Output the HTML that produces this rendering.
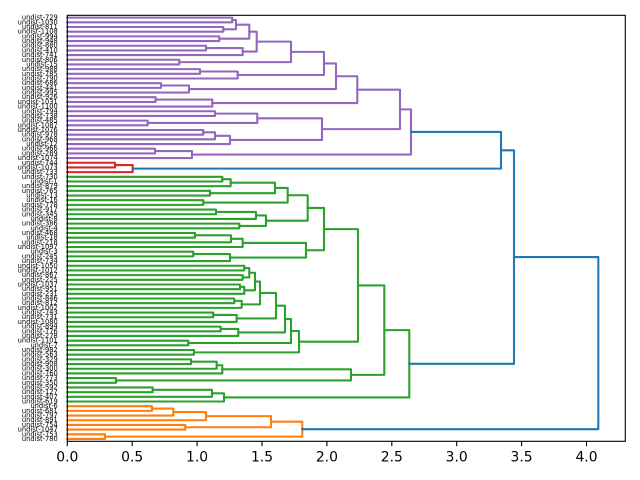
<!DOCTYPE html>
<html>
<head>
<meta charset="utf-8">
<style>
html,body{margin:0;padding:0;background:#fff;}
svg{display:block;}
.lbl{font-family:"DejaVu Sans","Liberation Sans",sans-serif;font-size:6.7px;fill:#000;}
.tk{font-family:"DejaVu Sans","Liberation Sans",sans-serif;font-size:13.9px;fill:#000;}
path{fill:none;stroke-width:2.08;stroke-linejoin:round;stroke-linecap:square;}
</style>
</head>
<body>
<svg width="640" height="480" viewBox="0 0 640 480" xmlns="http://www.w3.org/2000/svg">
<rect x="0" y="0" width="640" height="480" fill="#fff"/>
<rect x="67.3" y="15.3" width="558" height="426" fill="#fff"/>

<!-- purple -->
<g stroke="#9467bd">
<path d="M67.3 17.64 H232.3 V22.32 H67.3"/>
<path d="M67.3 27.00 H223.3 V31.68 H67.3"/>
<path d="M232.3 19.98 H236 V29.34 H223.3"/>
<path d="M67.3 36.37 H219.3 V41.05 H67.3"/>
<path d="M236 24.66 H249.3 V38.71 H219.3"/>
<path d="M67.3 45.73 H206 V50.41 H67.3"/>
<path d="M206 48.07 H242.7 V55.09 H67.3"/>
<path d="M249.3 31.69 H256.7 V51.58 H242.7"/>
<path d="M67.3 59.77 H179.3 V64.45 H67.3"/>
<path d="M256.7 41.63 H291 V62.11 H179.3"/>
<path d="M67.3 69.13 H200 V73.82 H67.3"/>
<path d="M200 71.48 H237.7 V78.50 H67.3"/>
<path d="M291 51.87 H324 V74.99 H237.7"/>
<path d="M67.3 83.18 H161 V87.86 H67.3"/>
<path d="M161 85.52 H189 V92.54 H67.3"/>
<path d="M324 63.43 H336 V89.03 H189"/>
<path d="M67.3 97.22 H155.7 V101.90 H67.3"/>
<path d="M155.7 99.56 H212.3 V106.58 H67.3"/>
<path d="M336 76.23 H357.3 V103.07 H212.3"/>
<path d="M67.3 111.27 H215 V115.95 H67.3"/>
<path d="M67.3 120.63 H147.7 V125.31 H67.3"/>
<path d="M215 113.61 H257.3 V122.97 H147.7"/>
<path d="M67.3 129.99 H203.3 V134.67 H67.3"/>
<path d="M203.3 132.33 H215 V139.35 H67.3"/>
<path d="M215 135.84 H230 V144.03 H67.3"/>
<path d="M257.3 118.29 H322 V139.94 H230"/>
<path d="M357.3 89.65 H400 V129.11 H322"/>
<path d="M67.3 148.72 H155 V153.40 H67.3"/>
<path d="M155 151.06 H192 V158.08 H67.3"/>
<path d="M400 109.38 H411 V154.57 H192"/>
</g>

<!-- red -->
<g stroke="#d62728">
<path d="M67.3 162.76 H115 V167.44 H67.3"/>
<path d="M115 165.10 H132.7 V172.12 H67.3"/>
</g>

<!-- green -->
<g stroke="#2ca02c">
<path d="M67.3 176.80 H222.3 V181.49 H67.3"/>
<path d="M222.3 179.15 H230.7 V186.17 H67.3"/>
<path d="M67.3 190.85 H210 V195.53 H67.3"/>
<path d="M230.7 182.66 H275 V193.19 H210"/>
<path d="M67.3 200.21 H203.3 V204.89 H67.3"/>
<path d="M275 187.93 H287.7 V202.55 H203.3"/>
<path d="M67.3 209.57 H216 V214.26 H67.3"/>
<path d="M216 211.92 H256 V218.94 H67.3"/>
<path d="M67.3 223.62 H239.3 V228.30 H67.3"/>
<path d="M256 215.43 H266 V225.96 H239.3"/>
<path d="M287.7 195.24 H307.7 V220.70 H266"/>
<path d="M67.3 232.98 H195 V237.66 H67.3"/>
<path d="M195 235.32 H231 V242.34 H67.3"/>
<path d="M231 238.83 H242.7 V247.02 H67.3"/>
<path d="M67.3 251.71 H193.3 V256.39 H67.3"/>
<path d="M193.3 254.05 H230 V261.07 H67.3"/>
<path d="M242.7 242.93 H306 V257.56 H230"/>
<path d="M307.7 207.97 H324 V250.25 H306"/>
<path d="M67.3 265.75 H244.3 V270.43 H67.3"/>
<path d="M67.3 275.11 H242.7 V279.79 H67.3"/>
<path d="M244.3 268.09 H249.3 V277.45 H242.7"/>
<path d="M67.3 284.48 H240 V289.16 H67.3"/>
<path d="M240 286.82 H244.3 V293.84 H67.3"/>
<path d="M249.3 272.77 H255 V290.33 H244.3"/>
<path d="M67.3 298.52 H234.3 V303.20 H67.3"/>
<path d="M234.3 300.86 H241.7 V307.88 H67.3"/>
<path d="M255 281.55 H260 V304.37 H241.7"/>
<path d="M67.3 312.56 H213.3 V317.24 H67.3"/>
<path d="M213.3 314.90 H236.7 V321.93 H67.3"/>
<path d="M260 292.96 H276 V318.42 H236.7"/>
<path d="M67.3 326.61 H220.7 V331.29 H67.3"/>
<path d="M220.7 328.95 H238.3 V335.97 H67.3"/>
<path d="M276 305.69 H285 V332.46 H238.3"/>
<path d="M67.3 340.65 H188.3 V345.33 H67.3"/>
<path d="M285 319.08 H291 V342.99 H188.3"/>
<path d="M67.3 350.01 H194 V354.70 H67.3"/>
<path d="M291 331.03 H299 V352.36 H194"/>
<path d="M324 229.11 H358 V341.70 H299"/>
<path d="M67.3 359.38 H191 V364.06 H67.3"/>
<path d="M191 361.72 H216.7 V368.74 H67.3"/>
<path d="M216.7 365.23 H222.3 V373.42 H67.3"/>
<path d="M67.3 378.10 H116 V382.78 H67.3"/>
<path d="M222.3 369.33 H351 V380.44 H116"/>
<path d="M358 285.40 H384.3 V374.88 H351"/>
<path d="M67.3 387.46 H152.7 V392.15 H67.3"/>
<path d="M152.7 389.81 H212 V396.83 H67.3"/>
<path d="M212 393.32 H224 V401.51 H67.3"/>
<path d="M384.3 330.14 H409.3 V397.42 H224"/>
</g>

<!-- orange -->
<g stroke="#ff7f0e">
<path d="M67.3 406.19 H152 V410.87 H67.3"/>
<path d="M152 408.53 H173.3 V415.55 H67.3"/>
<path d="M173.3 412.04 H206 V420.23 H67.3"/>
<path d="M67.3 424.91 H185.3 V429.60 H67.3"/>
<path d="M206 416.14 H271 V427.26 H185.3"/>
<path d="M67.3 434.28 H105 V438.96 H67.3"/>
<path d="M271 421.70 H302.3 V436.62 H105"/>
</g>

<!-- blue -->
<g stroke="#1f77b4">
<path d="M411 131.97 H501 V168.61 H132.7"/>
<path d="M501 150.29 H514 V363.78 H409.3"/>
<path d="M514 257.04 H598.3 V429.16 H302.3"/>
</g>

<!-- spines -->
<rect x="67.3" y="15.3" width="558" height="426" fill="none" stroke="#000" stroke-width="1.1"/>

<!-- x ticks -->
<g stroke="#000" stroke-width="1.1">
<line x1="67.3" y1="441.3" x2="67.3" y2="446.2"/>
<line x1="132.2" y1="441.3" x2="132.2" y2="446.2"/>
<line x1="197.1" y1="441.3" x2="197.1" y2="446.2"/>
<line x1="262.0" y1="441.3" x2="262.0" y2="446.2"/>
<line x1="326.9" y1="441.3" x2="326.9" y2="446.2"/>
<line x1="391.8" y1="441.3" x2="391.8" y2="446.2"/>
<line x1="456.7" y1="441.3" x2="456.7" y2="446.2"/>
<line x1="521.6" y1="441.3" x2="521.6" y2="446.2"/>
<line x1="586.5" y1="441.3" x2="586.5" y2="446.2"/>
</g>
<g class="tk" text-anchor="middle">
<text x="67.3" y="461.6">0.0</text>
<text x="132.2" y="461.6">0.5</text>
<text x="197.1" y="461.6">1.0</text>
<text x="262.0" y="461.6">1.5</text>
<text x="326.9" y="461.6">2.0</text>
<text x="391.8" y="461.6">2.5</text>
<text x="456.7" y="461.6">3.0</text>
<text x="521.6" y="461.6">3.5</text>
<text x="586.5" y="461.6">4.0</text>
</g>

<!-- leaf labels -->
<g class="lbl" text-anchor="end" dominant-baseline="central">
<text x="57.8" y="17.64">undist-729</text>
<text x="57.8" y="22.32">undist-1030</text>
<text x="57.8" y="27.00">undist-811</text>
<text x="57.8" y="31.68">undist-1108</text>
<text x="57.8" y="36.37">undist-994</text>
<text x="57.8" y="41.05">undist-948</text>
<text x="57.8" y="45.73">undist-880</text>
<text x="57.8" y="50.41">undist-410</text>
<text x="57.8" y="55.09">undist-741</text>
<text x="57.8" y="59.77">undist-806</text>
<text x="57.8" y="64.45">undist-15</text>
<text x="57.8" y="69.13">undist-988</text>
<text x="57.8" y="73.82">undist-785</text>
<text x="57.8" y="78.50">undist-790</text>
<text x="57.8" y="83.18">undist-686</text>
<text x="57.8" y="87.86">undist-441</text>
<text x="57.8" y="92.54">undist-995</text>
<text x="57.8" y="97.22">undist-926</text>
<text x="57.8" y="101.90">undist-1031</text>
<text x="57.8" y="106.58">undist-1100</text>
<text x="57.8" y="111.27">undist-794</text>
<text x="57.8" y="115.95">undist-738</text>
<text x="57.8" y="120.63">undist-485</text>
<text x="57.8" y="125.31">undist-1087</text>
<text x="57.8" y="129.99">undist-1076</text>
<text x="57.8" y="134.67">undist-978</text>
<text x="57.8" y="139.35">undist-968</text>
<text x="57.8" y="144.03">undist-12</text>
<text x="57.8" y="148.72">undist-966</text>
<text x="57.8" y="153.40">undist-289</text>
<text x="57.8" y="158.08">undist-1074</text>
<text x="57.8" y="162.76">undist-744</text>
<text x="57.8" y="167.44">undist-1073</text>
<text x="57.8" y="172.12">undist-733</text>
<text x="57.8" y="176.80">undist-730</text>
<text x="57.8" y="181.49">undist-1</text>
<text x="57.8" y="186.17">undist-879</text>
<text x="57.8" y="190.85">undist-765</text>
<text x="57.8" y="195.53">undist-13</text>
<text x="57.8" y="200.21">undist-16</text>
<text x="57.8" y="204.89">undist-778</text>
<text x="57.8" y="209.57">undist-917</text>
<text x="57.8" y="214.26">undist-345</text>
<text x="57.8" y="218.94">undist-8</text>
<text x="57.8" y="223.62">undist-386</text>
<text x="57.8" y="228.30">undist-4</text>
<text x="57.8" y="232.98">undist-468</text>
<text x="57.8" y="237.66">undist-18</text>
<text x="57.8" y="242.34">undist-218</text>
<text x="57.8" y="247.02">undist-1097</text>
<text x="57.8" y="251.71">undist-3</text>
<text x="57.8" y="256.39">undist-245</text>
<text x="57.8" y="261.07">undist-734</text>
<text x="57.8" y="265.75">undist-1050</text>
<text x="57.8" y="270.43">undist-1012</text>
<text x="57.8" y="275.11">undist-867</text>
<text x="57.8" y="279.79">undist-225</text>
<text x="57.8" y="284.48">undist-1037</text>
<text x="57.8" y="289.16">undist-951</text>
<text x="57.8" y="293.84">undist-231</text>
<text x="57.8" y="298.52">undist-846</text>
<text x="57.8" y="303.20">undist-812</text>
<text x="57.8" y="307.88">undist-1002</text>
<text x="57.8" y="312.56">undist-743</text>
<text x="57.8" y="317.24">undist-731</text>
<text x="57.8" y="321.93">undist-1080</text>
<text x="57.8" y="326.61">undist-894</text>
<text x="57.8" y="331.29">undist-776</text>
<text x="57.8" y="335.97">undist-278</text>
<text x="57.8" y="340.65">undist-1101</text>
<text x="57.8" y="345.33">undist-7</text>
<text x="57.8" y="350.01">undist-982</text>
<text x="57.8" y="354.70">undist-563</text>
<text x="57.8" y="359.38">undist-329</text>
<text x="57.8" y="364.06">undist-908</text>
<text x="57.8" y="368.74">undist-300</text>
<text x="57.8" y="373.42">undist-760</text>
<text x="57.8" y="378.10">undist-773</text>
<text x="57.8" y="382.78">undist-350</text>
<text x="57.8" y="387.46">undist-592</text>
<text x="57.8" y="392.15">undist-127</text>
<text x="57.8" y="396.83">undist-407</text>
<text x="57.8" y="401.51">undist-619</text>
<text x="57.8" y="406.19">undist-6</text>
<text x="57.8" y="410.87">undist-681</text>
<text x="57.8" y="415.55">undist-797</text>
<text x="57.8" y="420.23">undist-891</text>
<text x="57.8" y="424.91">undist-754</text>
<text x="57.8" y="429.60">undist-1047</text>
<text x="57.8" y="434.28">undist-753</text>
<text x="57.8" y="438.96">undist-780</text>
</g>
</svg>
</body>
</html>
